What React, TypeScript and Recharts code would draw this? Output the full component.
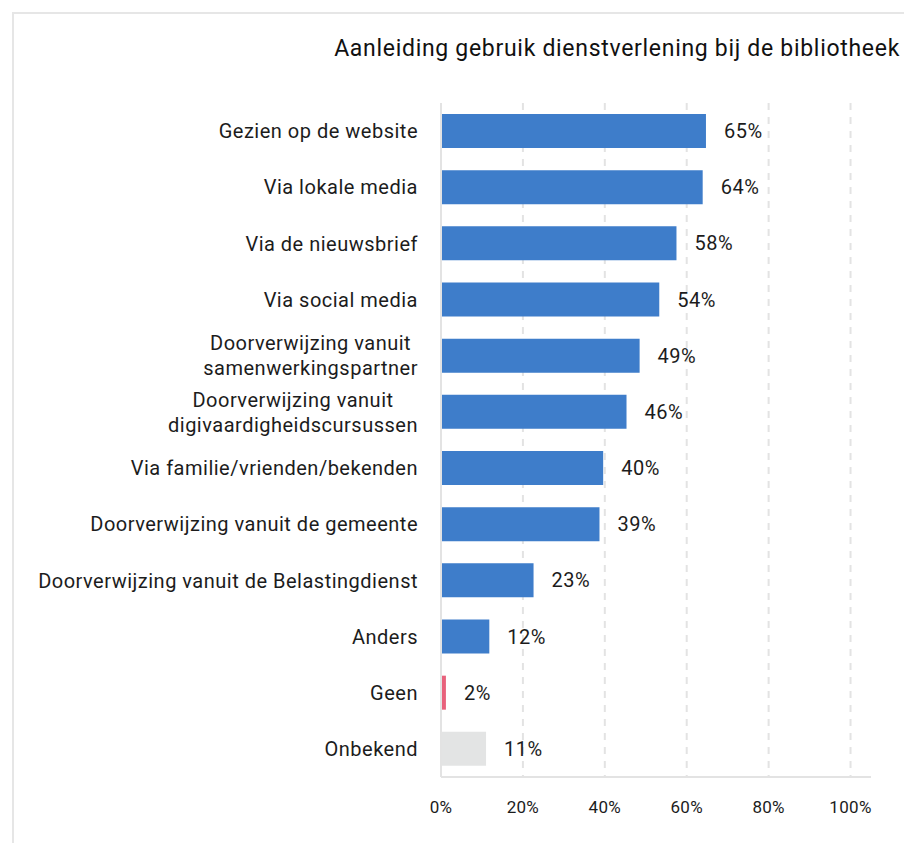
import { BarChart, Bar, XAxis, YAxis, CartesianGrid, Cell, LabelList } from "recharts";

const categories = [
  "Gezien op de website",
  "Via lokale media",
  "Via de nieuwsbrief",
  "Via social media",
  "Doorverwijzing vanuit \nsamenwerkingspartner",
  "Doorverwijzing vanuit\ndigivaardigheidscursussen",
  "Via familie/vrienden/bekenden",
  "Doorverwijzing vanuit de gemeente",
  "Doorverwijzing vanuit de Belastingdienst",
  "Anders",
  "Geen",
  "Onbekend",
];
const values = [64.7, 63.9, 57.5, 53.3, 48.5, 45.3, 39.6, 38.7, 22.6, 11.8, 1.2, 11.0];
const valueLabels = ["65%", "64%", "58%", "54%", "49%", "46%", "40%", "39%", "23%", "12%", "2%", "11%"];
const colors = [
  "#3e7dca", "#3e7dca", "#3e7dca", "#3e7dca", "#3e7dca", "#3e7dca",
  "#3e7dca", "#3e7dca", "#3e7dca", "#3e7dca", "#e8627c", "#e3e4e4",
];
const xTicks = [0, 20, 40, 60, 80, 100];
const gridValues = [20, 40, 60, 80, 100];

const FONT = "Roboto, sans-serif";
const TEXT = "#1c1c1c";
const LS = 0.5;

const data = categories.map((name, i) => ({ name, value: values[i], label: valueLabels[i] }));

function measure(text: string, size: number) {
  const c = document.createElement("canvas").getContext("2d");
  if (!c) return text.length * size * 0.5;
  c.font = `${size}px Roboto`;
  return c.measureText(text).width + text.length * LS;
}

function CategoryTick(props: any) {
  const { x, y, payload } = props;
  const lines = String(payload.value).split("\n");
  const common = { fontSize: 20, fontFamily: FONT, fill: TEXT, letterSpacing: LS };
  if (lines.length === 1) {
    return (
      <text x={x} y={y} dy="0.355em" textAnchor="end" {...common}>
        {lines[0]}
      </text>
    );
  }
  const maxW = Math.max(...lines.map((l) => measure(l.trim(), 20)));
  const cx = x - maxW / 2;
  return (
    <text x={cx} y={y} textAnchor="middle" {...common}>
      {lines.map((l, i) => (
        <tspan key={i} x={cx} y={y + (i - (lines.length - 1) / 2) * 25} dy="0.355em">
          {l.trim()}
        </tspan>
      ))}
    </text>
  );
}

export default function App() {
  return (
    <div style={{ position: "absolute", left: 0, top: 0, width: 904, height: 843, background: "#fff", overflow: "hidden" }}>
      <div
        style={{
          position: "absolute", left: 12, top: 12, width: 900, height: 840,
          borderLeft: "2px solid #e6e6e6", borderTop: "2px solid #e6e6e6",
        }}
      />
      <div
        style={{
          position: "absolute", right: 4, top: 38, fontFamily: FONT, fontSize: 23,
          lineHeight: "22px", letterSpacing: 0.7, color: "#111", whiteSpace: "nowrap",
        }}
      >
        Aanleiding gebruik dienstverlening bij de bibliotheek
      </div>
      <BarChart
        width={904}
        height={843}
        data={data}
        layout="vertical"
        margin={{ top: 103, right: 33, bottom: 0, left: 0 }}
        style={{ position: "absolute", left: 0, top: 0 }}
      >
        <CartesianGrid
          horizontal={false}
          verticalValues={gridValues}
          stroke="#e3e3e3"
          strokeWidth={2}
          strokeDasharray="7 7"
        />
        <XAxis
          type="number"
          domain={[0, 105]}
          ticks={xTicks}
          height={66}
          tickFormatter={(v) => `${v}%`}
          tickLine={false}
          tickMargin={18}
          axisLine={{ stroke: "#e3e3e3", strokeWidth: 2 }}
          tick={{ fill: TEXT, fontSize: 17, fontFamily: FONT, letterSpacing: 0.3 }}
        />
        <YAxis
          type="category"
          dataKey="name"
          width={441}
          tickLine={false}
          tickSize={0}
          tickMargin={23}
          axisLine={{ stroke: "#e3e3e3", strokeWidth: 2 }}
          tick={<CategoryTick />}
          interval={0}
        />
        <Bar dataKey="value" barSize={34} isAnimationActive={false}>
          {data.map((d, i) => (
            <Cell key={d.name} fill={colors[i]} />
          ))}
          <LabelList
            dataKey="label"
            position="right"
            offset={18}
            fill={TEXT}
            fontSize={20}
            fontFamily={FONT}
            letterSpacing={LS}
          />
        </Bar>
      </BarChart>
    </div>
  );
}
